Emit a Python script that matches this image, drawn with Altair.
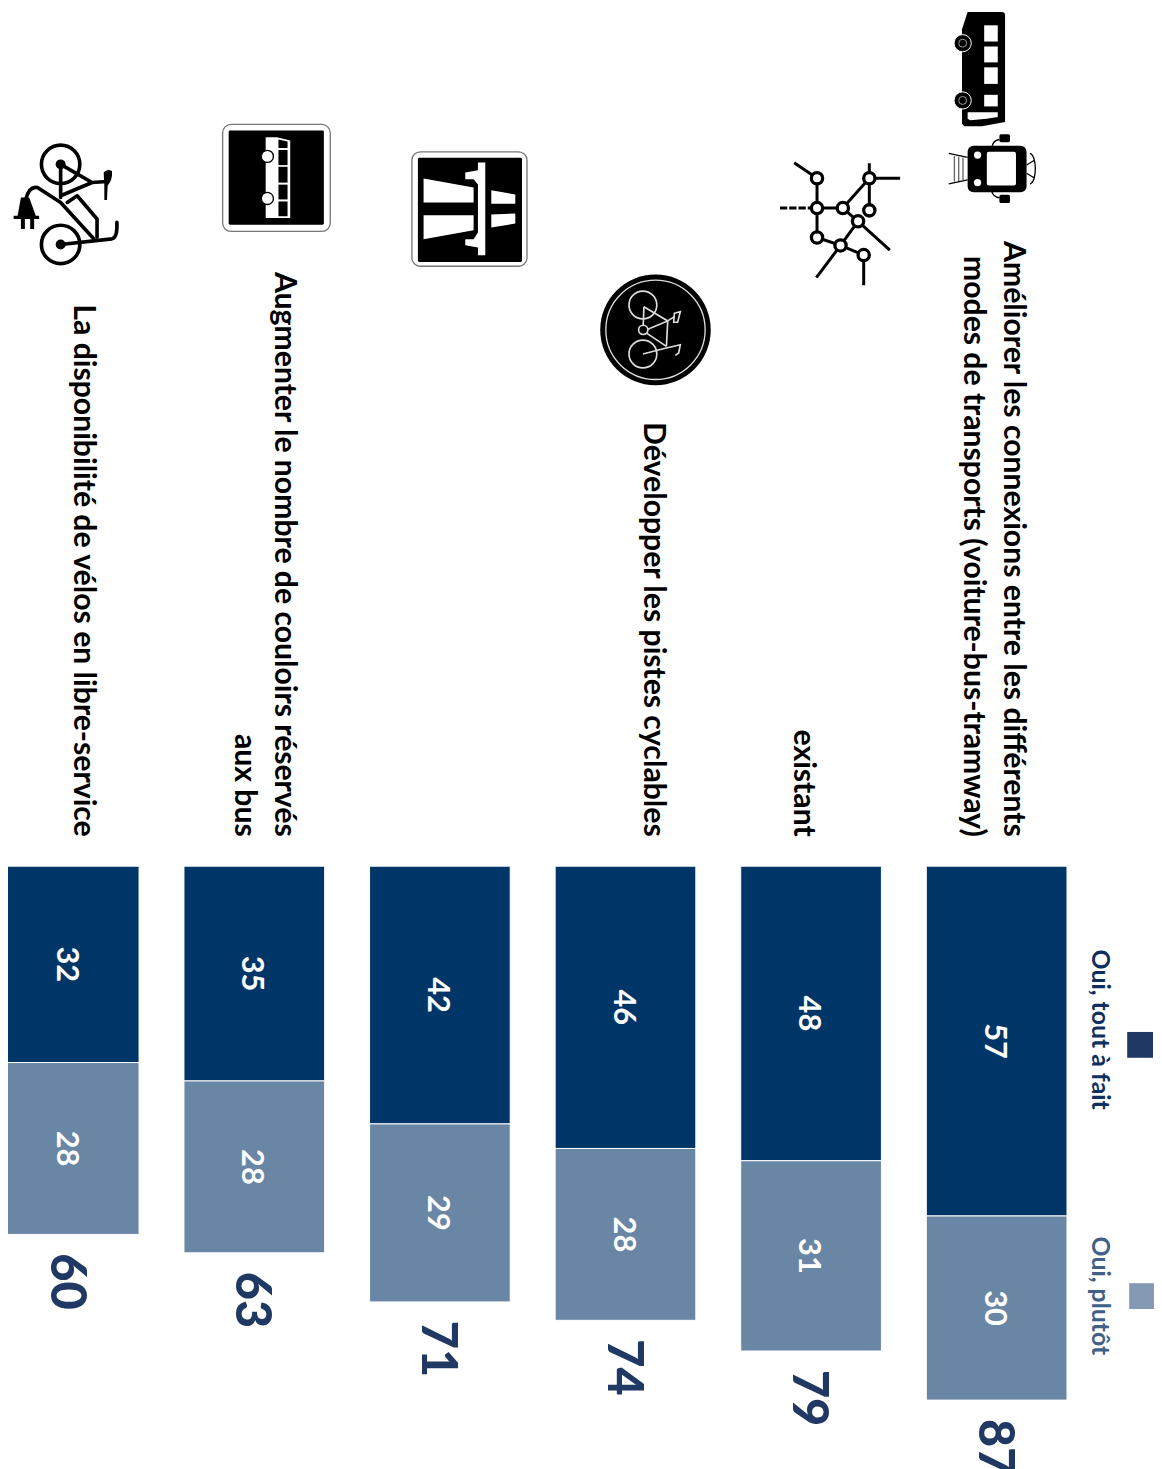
import base64
import altair as alt
import pandas as pd

# ---------- data ----------
categories = ["Vélos en libre-service", "Couloirs de bus", "Autoroutes",
              "Pistes cyclables", "Réseau existant", "Connexions"]
tout_a_fait = [32, 35, 42, 46, 48, 57]
plutot = [28, 28, 29, 28, 31, 30]
totaux = [60, 63, 71, 74, 79, 87]
row_labels = [
    "La disponibilité de vélos en libre-service",
    "Augmenter le nombre de couloirs réservés\naux bus",
    "",
    "Développer les pistes cyclables",
    "existant",
    "Améliorer les connexions entre les différents\nmodes de transports (voiture-bus-tramway)",
]
series_names = ["Oui, tout à fait", "Oui, plutôt"]

FONT = "Lato"
DARK, LIGHT = "#003567", "#6a86a5"

rows = []
for c, a, b in zip(categories, tout_a_fait, plutot):
    rows.append({"cat": c, "serie": series_names[0], "debut": 0, "fin": a, "milieu": a / 2, "val": a})
    rows.append({"cat": c, "serie": series_names[1], "debut": a, "fin": a + b, "milieu": a + b / 2, "val": b})
df = pd.DataFrame(rows)
df_tot = pd.DataFrame({"cat": categories, "total": totaux})

x_scale = alt.Scale(domain=categories, range=[-32.3, 1089], paddingInner=0.242, paddingOuter=0.121)
y_scale = alt.Scale(domain=[-139, 97.4], range=[0, 1461])
X = alt.X("cat:N", scale=x_scale, axis=None)

bars = alt.Chart(df).mark_bar(stroke="white", strokeWidth=1).encode(
    x=X,
    y=alt.Y("debut:Q", scale=y_scale, axis=None),
    y2="fin:Q",
    color=alt.Color("serie:N", scale=alt.Scale(domain=series_names, range=[DARK, LIGHT]), legend=None),
)
values = alt.Chart(df).mark_text(angle=90, font=FONT, fontWeight="bold", fontSize=31, color="white", align="center", baseline="middle", dy=3).encode(
    x=X, y=alt.Y("milieu:Q", scale=y_scale, axis=None), text="val:Q")
totals = alt.Chart(df_tot).mark_text(angle=90, font=FONT, fontWeight=900, fontSize=49, color="#1f3864", align="left", baseline="middle", dx=19, dy=3).encode(
    x=X, y=alt.Y("total:Q", scale=y_scale, axis=None), text="total:Q")

# row labels, each with its own shift across the row
shifts = [-14, -30, 0, -27.5, 8.5, -16]
labels = []
for c, t, s in zip(categories, row_labels, shifts):
    if t:
        labels.append(
            alt.Chart(pd.DataFrame({"cat": [c], "t": [t], "zero": [-4.8]})).mark_text(
                angle=90, font=FONT, fontWeight="bold", fontSize=30.4, color="black", align="right",
                baseline="middle", lineBreak="\n", lineHeight=40, dy=s,
            ).encode(x=X, y=alt.Y("zero:Q", scale=y_scale, axis=None), text="t:N")
        )

# legend
def legend_text(text, colour, x, y):
    return alt.Chart(pd.DataFrame({"t": [text]})).mark_text(
        angle=90, font=FONT, fontWeight="bold", fontSize=25, color=colour, align="left", baseline="middle"
    ).encode(x=alt.value(x), y=alt.value(y), text="t:N")

def swatch(colour, x, y, s=26):
    return alt.Chart(pd.DataFrame({"a": [0]})).mark_rect(color=colour).encode(
        x=alt.value(x), x2=alt.value(x + s), y=alt.value(y), y2=alt.value(y + s))

legend = [
    legend_text(series_names[0], "#0f2f60", 1100, 943),
    legend_text(series_names[1], "#3f6187", 1100, 1232),
    swatch("#1f3864", 1127, 1026),
    swatch("#8499b4", 1129, 1279),
]

# pictograms, drawn as small SVG documents
svg_top = """
<svg xmlns="http://www.w3.org/2000/svg" viewBox="0 0 1200 1350" width="1200" height="1350">
<path d="M622 33H725Q735 33 735 43V365L665 378H612L605 370V85Z" fill="#000"/>
<g fill="#fff"><rect x="672" y="73" width="41" height="49"/><rect x="672" y="137" width="41" height="48"/>
<rect x="672" y="200" width="41" height="50"/><rect x="672" y="283" width="41" height="35"/>
<path d="M622 336H713V350L680 355L630 360L622 355Z"/></g>
<g stroke="#fff" stroke-width="3" fill="#000"><circle cx="607" cy="127" r="26"/><circle cx="607" cy="300" r="26"/></g>
<g stroke="#999" stroke-width="3" fill="none"><circle cx="607" cy="127" r="12"/><circle cx="607" cy="300" r="12"/></g>
<rect x="622" y="437" width="178" height="140" rx="18" fill="#000"/>
<rect x="680" y="455" width="88" height="102" rx="6" fill="#fff"/>
<circle cx="652" cy="465" r="11" fill="#fff"/><circle cx="652" cy="548" r="11" fill="#fff"/>
<rect x="718" y="402" width="32" height="24" rx="5" fill="#000"/><rect x="718" y="585" width="32" height="25" rx="5" fill="#000"/>
<g stroke="#000" stroke-width="4" fill="none"><path d="M718 418Q700 420 695 440M718 594Q700 592 695 575"/>
<path d="M565 460L622 472M565 552L622 540"/><path d="M810 460C832 465 832 548 810 552M800 495L825 480M800 520L825 535"/></g>
<g stroke="#666" stroke-width="4"><path d="M582 468V545M595 470V543M608 472V541"/></g>
<g stroke="#000" stroke-width="9" fill="none">
<path d="M167 535V714M167 625H245M245 625L325 535M325 490V632M325 535H418M245 625L291 665M291 665L238 738M167 714L238 738L308 767M167 535L98 488M291 665L387 752M238 738L165 835M308 767V858"/>
<path d="M55 625H167" stroke-dasharray="22 6"/></g>
<g fill="#fff" stroke="#000" stroke-width="10">
<circle cx="167" cy="535" r="17"/><circle cx="167" cy="625" r="17"/><circle cx="245" cy="625" r="17"/>
<circle cx="325" cy="535" r="17"/><circle cx="325" cy="632" r="17"/><circle cx="291" cy="665" r="17"/>
<circle cx="167" cy="714" r="17"/><circle cx="238" cy="738" r="17"/><circle cx="308" cy="767" r="17"/></g>
</svg>"""

svg_cycle = """
<svg xmlns="http://www.w3.org/2000/svg" viewBox="0 0 390 390" width="390" height="390">
<circle cx="195" cy="195" r="167" fill="#000"/><circle cx="195" cy="195" r="150" fill="none" stroke="#ddd" stroke-width="4"/>
<g fill="none" stroke="#ddd" stroke-width="5">
<circle cx="157" cy="120" r="42"/><circle cx="157" cy="268" r="42"/><circle cx="158" cy="195" r="14"/>
<path d="M160 125L232 168L172 193M160 125L158 181M168 205L228 245M232 168L228 245M232 168L252 155"/>
<path d="M157 268L228 250L270 240L265 265L255 272"/><path d="M252 145L270 140L262 172L250 172Z"/></g>
</svg>"""

svg_ebike = """
<svg xmlns="http://www.w3.org/2000/svg" viewBox="0 0 390 435" width="390" height="435">
<g fill="none" stroke="#000" stroke-width="11" stroke-linejoin="round" stroke-linecap="round">
<circle cx="180" cy="100" r="58"/><circle cx="180" cy="342" r="58"/>
<path d="M180 100V200M180 100L275 155M180 195L275 155L320 152"/>
<path d="M180 342L335 325Q352 322 350 275"/>
<path d="M75 205Q85 165 110 170L180 215L280 325"/>
<path d="M200 215L230 195L290 265V320"/></g>
<circle cx="180" cy="100" r="15" fill="#000"/><circle cx="180" cy="342" r="15" fill="#000"/>
<path d="M310 125Q320 112 335 120Q338 145 322 165L320 208H312V165Z" fill="#000"/>
<path d="M60 200H85L105 255H115V265H100V295H88V265H72V295H60V265H38V255H50Z" fill="#000"/>
</svg>"""

svg_bus_sign = """
<svg xmlns="http://www.w3.org/2000/svg" viewBox="0 0 375 375" width="375" height="375">
<rect x="24" y="27" width="320" height="318" rx="25" fill="#fff" stroke="#777" stroke-width="4"/>
<rect x="42" y="45" width="283" height="280" rx="4" fill="#000"/>
<path d="M152 65H185L225 75V305H152Z" fill="#fff"/>
<g fill="#000"><path d="M190 72L217 78V97H190Z"/><rect x="190" y="103" width="27" height="45"/><rect x="190" y="153" width="27" height="47"/>
<rect x="190" y="206" width="27" height="44"/><rect x="190" y="256" width="27" height="44"/></g>
<g fill="#fff" stroke="#000" stroke-width="4"><circle cx="157" cy="122" r="18"/><circle cx="157" cy="247" r="18"/></g>
</svg>"""

svg_road_sign = """
<svg xmlns="http://www.w3.org/2000/svg" viewBox="0 0 390 390" width="390" height="390">
<rect x="20" y="20" width="345" height="343" rx="25" fill="#fff" stroke="#777" stroke-width="4"/>
<rect x="38" y="38" width="312" height="312" rx="4" fill="#000"/>
<g fill="#fff"><path d="M55 100L205 127V172H55Z"/><path d="M55 210H205V255L55 282Z"/>
<path d="M218 52H240V330H218V307L180 300V282H205L218 262V118L205 102H180V82L218 75Z"/>
<path d="M258 135L330 148V176H258Z"/><path d="M258 208L330 205V235L258 247Z"/></g>
</svg>"""

def icon(svg, left, top, w, h):
    uri = "data:image/svg+xml;base64," + base64.b64encode(svg.encode("utf-8")).decode("ascii")
    return alt.Chart(pd.DataFrame({"u": [uri]})).mark_image(
        width=w, height=h, align="left", baseline="top", aspect=False
    ).encode(x=alt.value(left), y=alt.value(top), url="u:N")

icons = [
    icon(svg_top, 759, -12, 400, 450),
    icon(svg_cycle, 587, 254, 130, 130),
    icon(svg_ebike, -7, 119, 130, 145),
    icon(svg_bus_sign, 208, 103, 127, 127),
    icon(svg_road_sign, 400, 133, 131, 131),
]

chart = alt.layer(bars, values, totals, *labels, *legend, *icons).properties(
    width=1154, height=1461, padding=0,
    autosize=alt.AutoSizeParams(type="none", contains="padding"),
    background="white",
).configure_view(stroke=None)

chart.save("out.html", embed_options={"renderer": "svg", "actions": False})
